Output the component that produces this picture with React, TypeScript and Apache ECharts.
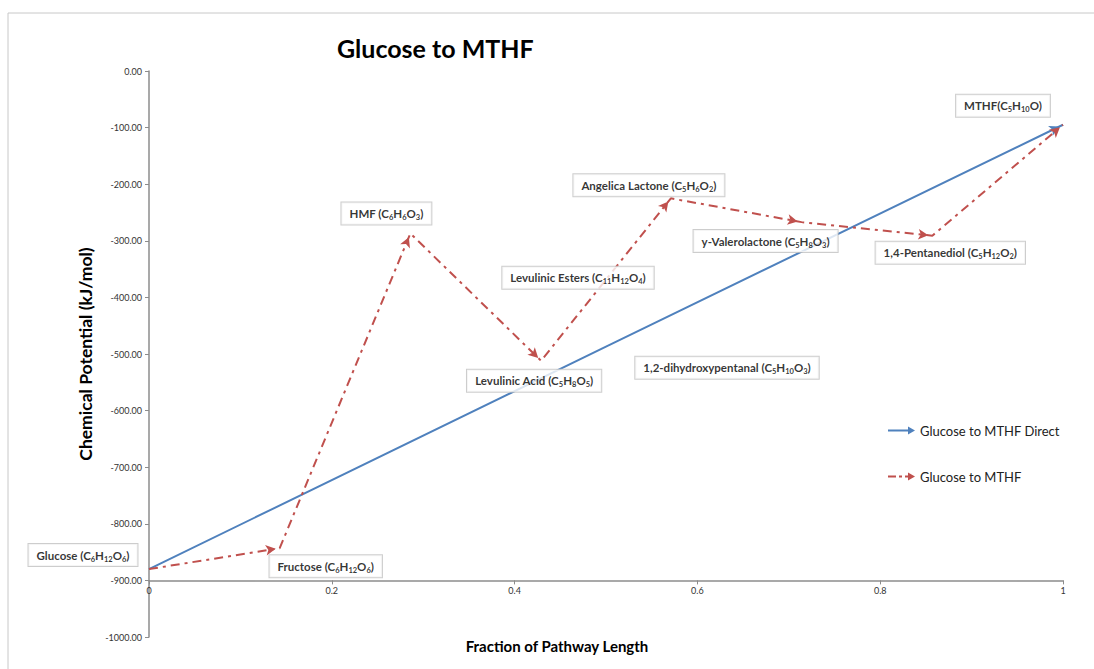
import React, { useEffect, useRef } from "react";
import * as echarts from "echarts";

// ---- data ----
const pathwayX = [0, 0.143, 0.286, 0.429, 0.571, 0.714, 0.857, 1];
const pathwayY = [-880, -843, -287, -512, -225, -267, -291, -95];
const directX = [0, 0.5, 1];
const directY = [-880, -487, -95];

const pathwayLabels = [
  "Glucose (C{s|6}H{s|12}O{s|6})",
  "Fructose (C{s|6}H{s|12}O{s|6})",
  "HMF (C{s|6}H{s|6}O{s|3})",
  "Levulinic Acid (C{s|5}H{s|8}O{s|5})",
  "Angelica Lactone (C{s|5}H{s|6}O{s|2})",
  "y-Valerolactone (C{s|5}H{s|8}O{s|3})",
  "1,4-Pentanediol (C{s|5}H{s|12}O{s|2})",
  "MTHF(C{s|5}H{s|10}O)",
];
const directLabels = [
  "Levulinic Esters (C{s|11}H{s|12}O{s|4})",
  "1,2-dihydroxypentanal (C{s|5}H{s|10}O{s|3})",
];

const yTicks = { min: -1000, max: 0, interval: 100 };
const xTicks = { min: 0, max: 1, interval: 0.2 };

// ---- layout (label centre offsets from anchor points, px) ----
const pathwayLabelOffsets = [
  [-66, -14], [46, 18], [-24, -20], [-7, 20], [-22, -13], [-36, 19], [18, 17], [-60, -19],
];
const directLabelOffsets = [[-28, -69], [121, 21]];

const FONT = "Lato, 'Open Sans', sans-serif";
const BLUE = "#4f81bd";
const RED = "#c0504d";

export default function App() {
  const ref = useRef<HTMLDivElement>(null);
  useEffect(() => {
    document.body.style.margin = "0";
    const chart = echarts.init(ref.current!, null, { renderer: "svg" });

    const labelBox = {
      show: true,
      position: "inside",
      fontFamily: FONT,
      fontSize: 11.5,
      fontWeight: "bold",
      color: "#000",
      backgroundColor: "#fff",
      borderColor: "#c0c0c0",
      borderWidth: 1,
      padding: [3, 8, 3, 8],
      lineHeight: 16,
      rich: {
        s: { fontFamily: FONT, fontSize: 7.5, fontWeight: "bold", color: "#000", lineHeight: 5, verticalAlign: "bottom" },
      },
    };

    const labelItems: any[] = [];
    pathwayX.forEach((x, i) => {
      labelItems.push({
        value: [x, pathwayY[i]],
        label: { ...labelBox, formatter: pathwayLabels[i], offset: pathwayLabelOffsets[i] },
      });
    });
    directLabels.forEach((t, i) => {
      labelItems.push({
        value: [directX[1], directY[1]],
        label: { ...labelBox, formatter: t, offset: directLabelOffsets[i] },
      });
    });

    const baseData = (xs: number[], ys: number[]) => xs.map((x, i) => ({ value: [x, ys[i]], symbol: "none" }));

    const option: any = {
      animation: false,
      textStyle: { fontFamily: FONT },
      graphic: [
        {
          type: "rect",
          shape: { x: 8, y: 13, width: 1200, height: 800 },
          style: { fill: "none", stroke: "#c8c8c8", lineWidth: 1 },
          silent: true,
        },
      ],
      title: {
        text: "Glucose to MTHF",
        left: 332,
        top: 30,
        textStyle: { fontFamily: FONT, fontSize: 25, fontWeight: "bold", color: "#000" },
      },
      legend: {
        orient: "vertical",
        left: 883,
        top: 419,
        itemGap: 33,
        itemWidth: 27,
        itemHeight: 8,
        textStyle: { fontFamily: FONT, fontSize: 13, color: "#222" },
        data: [
          { name: "Glucose to MTHF Direct", icon: "path://M0,3 L20,3 L20,0 L27,4 L20,8 L20,5 L0,5 Z" },
          {
            name: "Glucose to MTHF",
            icon: "path://M0,3 L8,3 L8,5 L0,5 Z M11,3 L14,3 L14,5 L11,5 Z M17,3 L20,3 L20,5 L17,5 Z M20,0 L27,4 L20,8 Z",
          },
        ],
      },
      grid: { left: 149, right: 31, top: 71, bottom: 32 },
      xAxis: {
        type: "value",
        ...xTicks,
        offset: -56.6,
        name: "Fraction of Pathway Length",
        nameLocation: "middle",
        nameGap: 58,
        nameTextStyle: { fontFamily: FONT, fontSize: 15, fontWeight: "bold", color: "#000", padding: [0, 98, 0, 0] },
        axisLine: { show: true, onZero: false, lineStyle: { color: "#8c8c8c", width: 1.5 } },
        axisTick: { show: true, length: 4, lineStyle: { color: "#8c8c8c" } },
        axisLabel: { fontFamily: FONT, fontSize: 9, color: "#333", margin: 6, formatter: (v: number) => String(+v.toFixed(1)) },
        splitLine: { show: false },
      },
      yAxis: {
        type: "value",
        ...yTicks,
        name: "Chemical Potential (kJ/mol)",
        nameLocation: "middle",
        nameGap: 52,
        nameRotate: 90,
        nameTextStyle: { fontFamily: FONT, fontSize: 17.5, fontWeight: "bold", color: "#000" },
        axisLine: { show: true, onZero: false, lineStyle: { color: "#8c8c8c", width: 1.5 } },
        axisTick: { show: true, length: 4, lineStyle: { color: "#8c8c8c" } },
        axisLabel: { fontFamily: FONT, fontSize: 9, color: "#333", margin: 7, formatter: (v: number) => v.toFixed(2) },
        splitLine: { show: false },
      },
      series: [
        {
          id: "direct",
          name: "Glucose to MTHF Direct",
          type: "line",
          data: baseData(directX, directY),
          lineStyle: { color: BLUE, width: 2 },
          itemStyle: { color: BLUE },
          symbolSize: [8, 10],
          silent: true,
          z: 3,
        },
        {
          id: "pathway",
          name: "Glucose to MTHF",
          type: "line",
          data: baseData(pathwayX, pathwayY),
          lineStyle: { color: RED, width: 2, type: [9, 5, 3, 5] },
          itemStyle: { color: RED },
          symbolSize: [8, 10],
          silent: true,
          z: 4,
        },
        {
          id: "labels",
          type: "scatter",
          data: labelItems,
          symbolSize: 1,
          itemStyle: { color: "rgba(0,0,0,0)" },
          silent: true,
          z: 10,
        },
      ],
    };
    chart.setOption(option);

    const arrowData = (xs: number[], ys: number[], arrowAt: (i: number) => boolean) =>
      xs.map((x, i) => {
        if (i === 0 || !arrowAt(i)) return { value: [x, ys[i]], symbol: "none" };
        const p = chart.convertToPixel({ gridIndex: 0 }, [x, ys[i]]) as number[];
        const q = chart.convertToPixel({ gridIndex: 0 }, [xs[i - 1], ys[i - 1]]) as number[];
        const dx = p[0] - q[0];
        const dy = p[1] - q[1];
        const len = Math.hypot(dx, dy) || 1;
        const ang = (Math.atan2(-dy, dx) * 180) / Math.PI;
        return {
          value: [x, ys[i]],
          symbol: "arrow",
          symbolRotate: ang - 90,
          symbolOffset: [(-dx / len) * 4, (-dy / len) * 4],
        };
      });

    chart.setOption({
      series: [
        { id: "direct", data: arrowData(directX, directY, (i) => i === directX.length - 1) },
        { id: "pathway", data: arrowData(pathwayX, pathwayY, () => true) },
      ],
    });

    return () => chart.dispose();
  }, []);
  return <div ref={ref} style={{ width: 1094, height: 669 }} />;
}
